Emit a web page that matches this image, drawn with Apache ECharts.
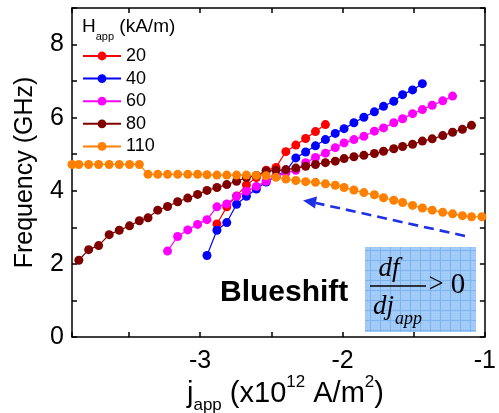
<!DOCTYPE html>
<html><head><meta charset="utf-8">
<script src="https://cdn.jsdelivr.net/npm/echarts@6/dist/echarts.min.js"></script>
<style>html,body{margin:0;padding:0;background:#fff}#c{width:499px;height:413px}</style>
</head><body><div id="c"></div>
<script>
// ---- data ----
const seriesNames = ['20', '40', '60', '80', '110'];
const seriesColors = ['#ff0000', '#0000ff', '#ff00ff', '#800000', '#ff8000'];

const j20 = [-2.882,-2.813,-2.744,-2.675,-2.605,-2.536,-2.467,-2.398,-2.328,-2.259,-2.190,-2.120];
const f20 = [3.09,3.56,3.86,4.16,4.36,4.56,4.64,5.07,5.25,5.43,5.62,5.81];

const j40 = [-2.952,-2.882,-2.813,-2.744,-2.675,-2.605,-2.536,-2.467,-2.398,-2.328,-2.259,-2.190,-2.120,-2.051,-1.989,-1.920,-1.850,-1.776,-1.712,-1.640,-1.578,-1.508,-1.439];
const f40 = [2.23,2.92,3.13,3.63,3.85,4.05,4.24,4.40,4.54,4.90,5.06,5.23,5.40,5.57,5.70,5.86,6.01,6.16,6.31,6.45,6.63,6.76,6.93];

const j60 = [-3.229,-3.158,-3.087,-3.018,-2.952,-2.882,-2.813,-2.744,-2.675,-2.605,-2.536,-2.467,-2.398,-2.328,-2.259,-2.190,-2.120,-2.051,-1.989,-1.920,-1.850,-1.776,-1.712,-1.640,-1.578,-1.508,-1.439,-1.370,-1.296,-1.227];
const f60 = [2.35,2.75,2.93,3.08,3.21,3.56,3.64,3.85,3.99,4.12,4.26,4.40,4.49,4.56,4.77,4.91,5.03,5.18,5.31,5.40,5.49,5.63,5.72,5.86,5.97,6.11,6.22,6.34,6.46,6.59];

const j80 = [-3.852,-3.783,-3.713,-3.639,-3.568,-3.496,-3.427,-3.366,-3.298,-3.229,-3.158,-3.087,-3.018,-2.952,-2.882,-2.813,-2.744,-2.675,-2.605,-2.536,-2.467,-2.398,-2.328,-2.259,-2.190,-2.120,-2.051,-1.989,-1.920,-1.850,-1.776,-1.712,-1.640,-1.578,-1.508,-1.439,-1.370,-1.296,-1.227,-1.158,-1.094];
const f80 = [2.10,2.39,2.50,2.80,2.92,3.04,3.18,3.26,3.47,3.57,3.70,3.80,3.90,4.01,4.09,4.17,4.26,4.36,4.42,4.54,4.56,4.58,4.62,4.67,4.72,4.77,4.81,4.88,4.93,4.97,5.02,5.08,5.15,5.21,5.27,5.36,5.42,5.51,5.60,5.68,5.79];

const j110 = [-3.9,-3.852,-3.783,-3.713,-3.639,-3.568,-3.496,-3.427,-3.366,-3.298,-3.229,-3.158,-3.087,-3.018,-2.952,-2.882,-2.813,-2.744,-2.675,-2.605,-2.536,-2.467,-2.398,-2.328,-2.259,-2.190,-2.120,-2.051,-1.989,-1.920,-1.850,-1.776,-1.712,-1.640,-1.578,-1.508,-1.439,-1.370,-1.296,-1.227,-1.158,-1.094,-1.021];
const f110 = [4.72,4.72,4.72,4.72,4.72,4.72,4.72,4.72,4.45,4.45,4.45,4.45,4.45,4.45,4.44,4.43,4.43,4.43,4.43,4.42,4.41,4.37,4.32,4.28,4.25,4.23,4.19,4.15,4.09,4.02,3.95,3.89,3.81,3.74,3.68,3.60,3.53,3.47,3.41,3.37,3.32,3.29,3.29];

const xMin = -3.9, xMax = -1;
const yMin = 0, yMax = 9;

const seriesJ = [j20, j40, j60, j80, j110];
const seriesF = [f20, f40, f60, f80, f110];

// ---- chart ----
const FONT = '"Liberation Sans", Arial, sans-serif';
const SERIF = '"Liberation Serif", "Times New Roman", serif';

const pc = document.createElement('canvas');
pc.width = 10; pc.height = 10;
const pctx = pc.getContext('2d');
pctx.fillStyle = '#a4cdf9'; pctx.fillRect(0, 0, 10, 10);
pctx.fillStyle = '#9ac6f5';
for (let i = 0; i < 10; i += 2) for (let k = 1; k < 10; k += 2) pctx.fillRect(i + 1, k, 1, 1);
pctx.fillStyle = '#7fb4ee'; pctx.fillRect(0, 0, 10, 1); pctx.fillRect(0, 0, 1, 10);

const chart = echarts.init(document.getElementById('c'), null, {renderer: 'canvas'});

const axisLineStyle = {color: '#000', width: 1.5};
const common = {
  axisLine: {show: true, onZero: false, lineStyle: axisLineStyle},
  axisTick: {show: true, inside: true, length: 5, lineStyle: {color: '#000', width: 1.5}},
  splitLine: {show: false}
};

chart.setOption({
  animation: false,
  backgroundColor: '#fff',
  textStyle: {fontFamily: FONT},
  grid: {left: 72, right: 8, top: 8, bottom: 76, containLabel: false},
  legend: {
    data: seriesNames,
    orient: 'vertical',
    left: 82, top: 47,
    padding: 0,
    itemWidth: 38, itemHeight: 11, itemGap: 4.6,
    textStyle: {fontSize: 18, color: '#000', fontFamily: FONT, lineHeight: 18}
  },
  xAxis: [
    Object.assign({}, common, {
      type: 'value', position: 'bottom', min: xMin, max: xMax, splitNumber: 6,
      axisLabel: {show: true, fontSize: 25, color: '#000', margin: 12, fontFamily: FONT,
        formatter: v => (Math.abs(v - Math.round(v)) < 1e-6 ? String(Math.round(v)) : '')}
    }),
    Object.assign({}, common, {
      type: 'value', position: 'top', min: xMin, max: xMax, splitNumber: 6,
      axisLabel: {show: false}
    })
  ],
  yAxis: [
    Object.assign({}, common, {
      type: 'value', position: 'left', min: yMin, max: yMax, interval: 1,
      name: 'Frequency (GHz)', nameLocation: 'middle', nameGap: 34, nameRotate: 90,
      nameTextStyle: {fontSize: 25, color: '#000', fontFamily: FONT},
      axisLabel: {show: true, fontSize: 25, color: '#000', margin: 8, fontFamily: FONT,
        formatter: v => (v % 2 === 0 ? String(v) : '')}
    }),
    Object.assign({}, common, {
      type: 'value', position: 'right', min: yMin, max: yMax, interval: 1,
      axisLabel: {show: false}
    })
  ],
  series: seriesNames.map((n, i) => ({
    name: n,
    type: 'line',
    xAxisIndex: 0, yAxisIndex: 0,
    data: seriesJ[i].map((x, k) => [x, seriesF[i][k]]),
    symbol: 'circle', symbolSize: 9, showSymbol: true,
    lineStyle: {color: seriesColors[i], width: 1.2},
    itemStyle: {color: seriesColors[i]},
    z: 2 + i
  })),
  graphic: [
    {type: 'text', left: 82, top: 17, z: 10,
      style: {
        text: '{h|H}{s|app}{t| (kA/m)}',
        rich: {
          h: {fontSize: 19, fontFamily: FONT, fill: '#000', lineHeight: 25, verticalAlign: 'top'},
          s: {fontSize: 11, fontFamily: FONT, fill: '#000', lineHeight: 11, verticalAlign: 'bottom'},
          t: {fontSize: 19, fontFamily: FONT, fill: '#000', lineHeight: 25, verticalAlign: 'top'}
        }
      }},
    {type: 'text', x: 187, y: 394, z: 10,
      style: {
        text: '{t|j}{s|app}{t| (x10}{p|12}{t| A/m}{p|2}{t|)}',
        verticalAlign: 'middle', align: 'left',
        rich: {
          t: {fontSize: 29, fontFamily: FONT, fill: '#000', lineHeight: 40},
          s: {fontSize: 17, fontFamily: FONT, fill: '#000', lineHeight: 17, verticalAlign: 'bottom'},
          p: {fontSize: 17, fontFamily: FONT, fill: '#000', lineHeight: 17, verticalAlign: 'top'}
        }
      }},
    {type: 'text', x: 220, y: 293, z: 10,
      style: {text: 'Blueshift', font: 'bold 30px ' + FONT, fill: '#000', verticalAlign: 'middle', align: 'left'}},
    {type: 'rect', shape: {x: 365, y: 247, width: 111, height: 85}, z: 9,
      style: {fill: {image: pc, repeat: 'repeat'}}},
    {type: 'text', x: 389, y: 269, z: 10,
      style: {text: 'df', font: 'italic 27px ' + SERIF, fill: '#000', align: 'center', verticalAlign: 'middle'}},
    {type: 'line', shape: {x1: 370, y1: 286, x2: 426, y2: 286}, z: 10,
      style: {stroke: '#000', lineWidth: 1.3}},
    {type: 'text', x: 373, y: 307, z: 10,
      style: {text: 'dj', font: 'italic 27px ' + SERIF, fill: '#000', align: 'left', verticalAlign: 'middle'}},
    {type: 'text', x: 395, y: 319, z: 10,
      style: {text: 'app', font: 'italic 18px ' + SERIF, fill: '#000', align: 'left', verticalAlign: 'middle'}},
    {type: 'text', x: 436, y: 285, z: 10,
      style: {text: '>', font: '27px ' + SERIF, fill: '#000', align: 'center', verticalAlign: 'middle'}},
    {type: 'text', x: 458, y: 285, z: 10,
      style: {text: '0', font: '29px ' + SERIF, fill: '#000', align: 'center', verticalAlign: 'middle'}},
    {type: 'line', shape: {x1: 465, y1: 236, x2: 316, y2: 203}, z: 10,
      style: {stroke: '#1f2fe6', lineWidth: 2.6, lineDash: [10, 6]}},
    {type: 'polygon', shape: {points: [[303, 200.5], [317, 196.5], [315, 208.5]]}, z: 10,
      style: {fill: '#1f2fe6'}}
  ]
});
</script>
</body></html>
